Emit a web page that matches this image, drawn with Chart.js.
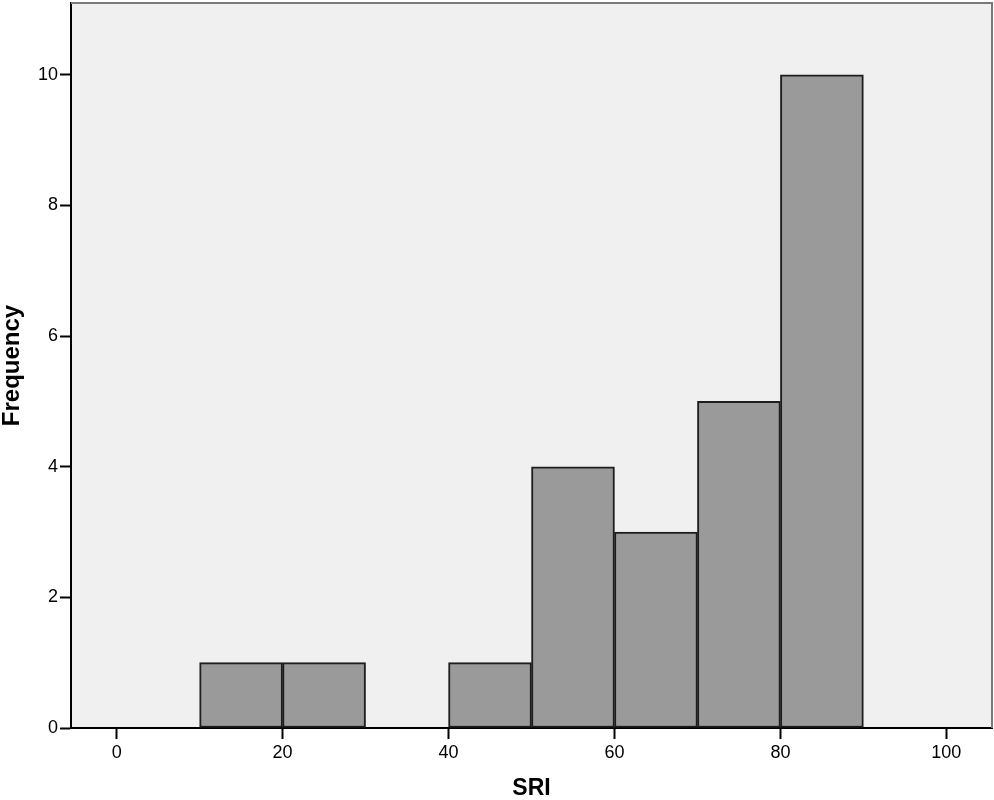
<!DOCTYPE html>
<html>
<head>
<meta charset="utf-8">
<script src="https://cdn.jsdelivr.net/npm/chart.js@4"></script>
<style>
  html, body { margin: 0; padding: 0; background: #ffffff; }
  #wrap { width: 994px; height: 800px; }
</style>
</head>
<body>
<div id="wrap"><canvas id="hist" width="994" height="800"></canvas></div>
<script>
// Histogram bins (lower edge), bin width and counts
const binStarts = [10, 20, 30, 40, 50, 60, 70, 80];
const binWidth = 10;
const counts = [1, 1, 0, 1, 4, 3, 5, 10];
const xTicks = [0, 20, 40, 60, 80, 100];
const yTicks = [0, 2, 4, 6, 8, 10];

const points = binStarts
  .map((start, i) => ({ x: start + binWidth / 2, y: counts[i] }))
  .filter((p) => p.y > 0);

const FONT = "'Liberation Sans', Arial, sans-serif";

// Grey plot background plus the light frame on top and right
const framePlugin = {
  id: "frame",
  beforeDraw(chart) {
    const { ctx, chartArea: a } = chart;
    ctx.save();
    ctx.fillStyle = "#f0f0f0";
    ctx.fillRect(a.left, a.top, a.right - a.left, a.bottom - a.top);
    ctx.restore();
  },
  afterDraw(chart) {
    const { ctx, chartArea: a } = chart;
    ctx.save();
    ctx.strokeStyle = "#7a7a7a";
    ctx.lineWidth = 2;
    ctx.beginPath();
    ctx.moveTo(a.left, a.top);
    ctx.lineTo(a.right, a.top);
    ctx.lineTo(a.right, a.bottom);
    ctx.stroke();
    ctx.restore();
  },
};

const tickGrid = {
  display: true,
  offset: false,
  drawOnChartArea: false,
  drawTicks: true,
  tickLength: 11,
  tickColor: "#000000",
  tickWidth: 2,
};

new Chart(document.getElementById("hist"), {
  type: "bar",
  data: {
    datasets: [
      {
        label: "SRI",
        data: points,
        backgroundColor: "#9a9a9a",
        borderColor: "#1e1e1e",
        borderWidth: 2,
        borderSkipped: false,
        barPercentage: 1,
        categoryPercentage: 1,
      },
    ],
  },
  options: {
    responsive: false,
    animation: false,
    layout: { padding: { left: 0, top: 3, right: 2, bottom: 0 } },
    plugins: {
      legend: { display: false },
      tooltip: { enabled: false },
    },
    scales: {
      x: {
        type: "linear",
        offset: false,
        min: -5.5,
        max: 105.5,
        afterBuildTicks: (scale) => {
          scale.ticks = xTicks.map((v) => ({ value: v }));
        },
        afterFit: (scale) => {
          scale.height = 72;
          scale.paddingLeft = 0;
          scale.paddingRight = 0;
        },
        border: { display: true, color: "#000000", width: 2 },
        grid: tickGrid,
        ticks: {
          color: "#000000",
          font: { family: FONT, size: 18 },
          padding: 3,
          maxRotation: 0,
        },
        title: {
          display: true,
          text: "SRI",
          color: "#000000",
          font: { family: FONT, size: 23, weight: "bold", lineHeight: 1 },
          padding: 0,
        },
      },
      y: {
        type: "linear",
        min: 0,
        max: 11.1,
        afterBuildTicks: (scale) => {
          scale.ticks = yTicks.map((v) => ({ value: v }));
        },
        afterFit: (scale) => {
          scale.width = 71;
          scale.paddingTop = 0;
          scale.paddingBottom = 0;
        },
        border: { display: true, color: "#000000", width: 2 },
        grid: tickGrid,
        ticks: {
          color: "#000000",
          font: { family: FONT, size: 18 },
          padding: 2,
        },
        title: {
          display: true,
          text: "Frequency",
          color: "#000000",
          font: { family: FONT, size: 24, weight: "bold", lineHeight: 1 },
          padding: 0,
        },
      },
    },
  },
  plugins: [framePlugin],
});
</script>
</body>
</html>
